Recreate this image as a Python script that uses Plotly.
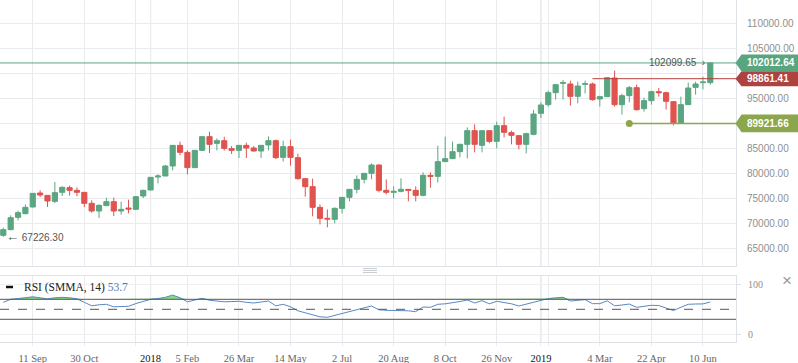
import plotly.graph_objects as go
import numpy as np
import pandas as pd

# ---------------- data ----------------
dates = pd.date_range("2017-08-14", periods=97, freq="7D")

opens = [67530, 68670, 71130, 71870, 73200, 76000, 75530, 74330, 76130, 77070,
         76530, 76130, 73930, 72400, 73470, 74270, 72400, 73000, 72730, 75400,
         76600, 79200, 79400, 81400, 85530, 84130, 81070, 84530, 87270, 85930,
         86470, 84870, 84530, 85530, 85000, 84400, 85600, 86470, 83130, 85270,
         83070, 78870, 77270, 73130, 70930, 70730, 72930, 75130, 76730, 78730,
         79930, 81600, 76530, 76130, 76330, 76730, 76530, 75530, 79530, 79330,
         82270, 82870, 84270, 85730, 88470, 85530, 88470, 86330, 89470, 88070,
         87470, 85730, 87730, 91930, 93670, 96070, 97930, 97800, 95330, 97730,
         97800, 94800, 95270, 99000, 93670, 95470, 97070, 92870, 94470, 96270,
         96070, 94270, 90000, 93670, 97130, 98070, 98070]
highs = [69070, 71530, 72470, 73730, 76000, 76530, 75530, 78200, 77330, 77470,
         77130, 76130, 74530, 73730, 75070, 75070, 74270, 74670, 75400, 76670,
         79200, 79730, 81600, 85530, 86270, 84530, 84600, 87330, 88270, 86930,
         87270, 85400, 85600, 86070, 85400, 85600, 87330, 86670, 86470, 86670,
         83870, 78930, 78870, 73730, 72730, 73130, 75200, 76800, 79530, 79930,
         81930, 81730, 78730, 77330, 78930, 76800, 77330, 80130, 80130, 85470,
         87270, 86270, 85870, 89130, 89730, 88530, 88530, 90270, 91270, 88470,
         87530, 88070, 92600, 94130, 96470, 97730, 98600, 98470, 98270, 98470,
         98070, 95470, 99200, 100470, 95870, 97400, 97670, 95070, 96470, 97000,
         96270, 94330, 95270, 98070, 98270, 99270, 102099.65]
lows = [67226.30, 68530, 70530, 71730, 73130, 75200, 73200, 73990, 75400, 75470,
        75330, 73200, 72070, 71000, 73470, 71400, 71670, 71930, 72600, 75000,
        76530, 77930, 79400, 80530, 83530, 79730, 81000, 84400, 84000, 84530,
        84470, 83800, 83000, 83000, 84330, 83000, 84530, 82800, 82270, 81470,
        78670, 75270, 71330, 69730, 69130, 69930, 71930, 74330, 75930, 77930,
        78730, 76130, 75730, 74930, 76130, 74330, 74330, 75330, 77070, 78070,
        82270, 82870, 83130, 82930, 84130, 84130, 85930, 84930, 87130, 85730,
        84730, 83930, 87530, 91000, 93270, 94670, 94670, 93470, 93930, 95930,
        94470, 93270, 95270, 93270, 91670, 94130, 92470, 92270, 93670, 95270,
        92670, 89530, 89800, 93670, 95670, 96730, 97670]
closes = [68670, 71070, 72070, 73130, 75930, 75600, 74400, 76070, 77130, 76530,
          76130, 73930, 72400, 73530, 74270, 72400, 72730, 72800, 75270, 76530,
          79130, 79400, 81400, 85530, 84130, 81070, 84530, 87270, 85730, 86470,
          84930, 84530, 85530, 85000, 84400, 85530, 86470, 83070, 85270, 83130,
          78870, 77270, 73130, 70930, 70800, 72930, 75130, 76730, 78730, 79930,
          81600, 76530, 76130, 76330, 76730, 76530, 75530, 79530, 79330, 82270,
          82870, 84270, 85730, 88470, 85730, 88470, 86330, 89470, 88130, 87530,
          85730, 87870, 91800, 93600, 96070, 97670, 98070, 95330, 97400, 97870,
          94670, 95270, 99070, 93670, 95470, 97070, 92670, 94470, 96270, 96070,
          94330, 90000, 93670, 97000, 97800, 98200, 102012.64]

rsi = [64, 70, 71.5, 73, 75, 73, 71, 73, 74, 73,
       71, 64, 57, 59, 60, 55, 55, 56, 61.5, 66,
       70, 71.5, 74, 78.5, 73, 65, 68, 72, 68, 66.5,
       65, 65.5, 66, 64, 62.6, 64.5, 66.6, 57, 60, 55,
       47, 43, 39.5, 35, 34, 38, 41, 46.5, 50, 53,
       56.6, 49, 48, 48, 48, 47, 45.3, 54.6, 54, 60,
       61, 62.5, 65.5, 68.6, 62.6, 67.3, 61, 66, 64, 61,
       56.6, 60.5, 65, 68.6, 71.5, 73, 74, 66.6, 68.5, 69.3,
       61.3, 61.3, 67, 57, 58.6, 60.5, 54, 56, 58, 57.5,
       53, 47.5, 54, 60, 60.6, 60.8, 64.6]

price_ticks = [65000, 70000, 75000, 80000, 85000, 90000, 95000, 100000, 105000, 110000]
# labels for 90000 / 100000 sit under the price tags in the reference
price_ticktext = ["65000.00", "70000.00", "75000.00", "80000.00", "85000.00", "",
                  "95000.00", "", "105000.00", "110000.00"]
rsi_ticks = [0, 100]
rsi_bands = [30, 50, 70]

x_tickvals = ["2017-09-11", "2017-10-30", "2017-12-18", "2018-01-01", "2018-02-05",
              "2018-03-26", "2018-05-14", "2018-07-02", "2018-08-20", "2018-10-08",
              "2018-11-26", "2019-01-07", "2019-01-14", "2019-03-04", "2019-04-22",
              "2019-06-10"]
x_ticktext = ["11 Sep", "30 Oct", "", "<span style='color:#111'>2018</span>", "5 Feb",
              "26 Mar", "14 May", "2 Jul", "20 Aug", "8 Oct",
              "26 Nov", "<span style='color:#111'>2019</span>", "", "4 Mar", "22 Apr",
              "10 Jun"]
year_lines = ["2018-01-01", "2019-01-07"]

last_close = 102012.64
last_high = 102099.65
first_low = 67226.30
red_level = 98861.41
red_start = dates[80]
olive_level = 89921.66
olive_start = dates[85]
rsi_label = "RSI (SMMA, 14)"
rsi_value_label = "53.7"

# ---------------- style ----------------
W, H = 798, 363
ML, MR, MT, MB = 0, 62, 0, 21
PW, PH = W - ML - MR, H - MT - MB
GREEN = "#5aa681"
RED = "#e0534e"
TAG_GREEN = "#58a580"
TAG_RED = "#ad4240"
OLIVE = "#8ba64c"
GRID = "#e9ebee"
YEARGRID = "#d4d7db"
BORDER = "#dfe2e6"
SANS = "Liberation Sans"
SERIF = "Liberation Serif"

main_dom = [(PH - 266) / PH, 1.0]
rsi_dom = [0.0, (PH - 276) / PH]
y_range = [61400, 114600]
rsi_range = [-15.4, 116.6]
x_range = ["2017-08-10 20:40", "2019-07-11 10:00"]


def py(ypix):  # pixel row (from top) -> paper y
    return (PH - ypix) / PH


def px(xpix):  # pixel column -> paper x
    return xpix / PW


fig = go.Figure()

fig.add_trace(go.Candlestick(
    x=dates, open=opens, high=highs, low=lows, close=closes,
    increasing=dict(line=dict(color=GREEN, width=1), fillcolor=GREEN),
    decreasing=dict(line=dict(color=RED, width=1), fillcolor=RED),
    whiskerwidth=0, showlegend=False, hoverinfo="skip",
    xaxis="x", yaxis="y"))

fig.add_trace(go.Scatter(
    x=[olive_start], y=[olive_level], mode="markers",
    marker=dict(color=OLIVE, size=7), showlegend=False, hoverinfo="skip",
    xaxis="x", yaxis="y"))

# RSI overbought fill
fig.add_trace(go.Scatter(x=dates, y=[70] * len(dates), mode="lines",
                         line=dict(width=0, color="rgba(0,0,0,0)"),
                         showlegend=False, hoverinfo="skip", xaxis="x2", yaxis="y2"))
fig.add_trace(go.Scatter(x=dates, y=np.maximum(np.array(rsi), 70), mode="lines",
                         line=dict(width=0, color="rgba(0,0,0,0)"), fill="tonexty",
                         fillcolor="rgba(110,210,110,0.85)",
                         showlegend=False, hoverinfo="skip", xaxis="x2", yaxis="y2"))
fig.add_trace(go.Scatter(x=dates, y=rsi, mode="lines",
                         line=dict(width=1, color="#5b87c4"),
                         showlegend=False, hoverinfo="skip", xaxis="x2", yaxis="y2"))

shapes = []
# year grid lines (darker)
for d in year_lines:
    shapes.append(dict(type="line", xref="x", yref="paper", x0=d, x1=d,
                       y0=main_dom[0], y1=1, line=dict(color=YEARGRID, width=1), layer="below"))
    shapes.append(dict(type="line", xref="x", yref="paper", x0=d, x1=d,
                       y0=rsi_dom[0], y1=rsi_dom[1], line=dict(color=YEARGRID, width=1), layer="below"))

# RSI bands
for b in rsi_bands:
    shapes.append(dict(type="line", xref="paper", yref="y2", x0=0, x1=1, y0=b, y1=b,
                       line=dict(color="#555555", width=1, dash="dash" if b == 50 else "solid")))

# horizontal price lines
shapes.append(dict(type="line", xref="paper", yref="y", x0=0, x1=1, y0=last_close, y1=last_close,
                   line=dict(color=GREEN, width=1)))
shapes.append(dict(type="line", xref="x", yref="y", x0=red_start, x1=x_range[1],
                   y0=red_level, y1=red_level, line=dict(color="#b5403d", width=1)))
shapes.append(dict(type="line", xref="x", yref="y", x0=olive_start, x1=x_range[1],
                   y0=olive_level, y1=olive_level, line=dict(color=OLIVE, width=1.5)))


# price tags (arrow-shaped)
def tag(level, color, half_px):
    h = half_px * 200  # 1px = 200 price units
    x_tip, x_body, x_end = px(735.5), px(741.5), px(W)
    path = (f"M {x_tip},{level} L {x_body},{level + h} L {x_end},{level + h} "
            f"L {x_end},{level - h} L {x_body},{level - h} Z")
    return dict(type="path", xref="paper", yref="y", path=path,
                fillcolor=color, line=dict(width=0), layer="above")


shapes.append(tag(red_level, TAG_RED, 7.5))
shapes.append(tag(last_close, TAG_GREEN, 8.4))
shapes.append(tag(olive_level, OLIVE, 8.8))

# pane resize handle
for yy in (268.5, 270.5, 272.5):
    shapes.append(dict(type="line", xref="paper", yref="paper", x0=px(363), x1=px(377),
                       y0=py(yy), y1=py(yy), line=dict(color="#c9cdd2", width=1)))
# legend dash
shapes.append(dict(type="line", xref="paper", yref="paper", x0=px(6), x1=px(13),
                   y0=py(287), y1=py(287), line=dict(color="#111111", width=2.5)))

annotations = []
for level, txt in ((last_close, f"{last_close:.2f}"), (red_level, f"{red_level:.2f}"),
                   (olive_level, f"{olive_level:.2f}")):
    annotations.append(dict(xref="paper", yref="y", x=px(745), y=level, xanchor="left",
                            yanchor="middle", text=txt, showarrow=False,
                            font=dict(family=SANS, size=10, color="white", weight="bold")))
annotations.append(dict(xref="x", yref="y", x=dates[-1], y=last_high, xanchor="right",
                        yanchor="middle", xshift=-3, text=f"{last_high:.2f}  \u203a",
                        showarrow=False, font=dict(family=SANS, size=10, color="#555555")))
annotations.append(dict(xref="x", yref="y", x=dates[0], y=first_low, xanchor="left",
                        yanchor="middle", xshift=1,
                        text=f"<span style='font-size:13px'>\u2190</span> {first_low:.2f}",
                        showarrow=False, font=dict(family=SANS, size=10, color="#555555")))
annotations.append(dict(xref="paper", yref="paper", x=px(22), y=py(287.5), xanchor="left",
                        yanchor="middle",
                        text=f"{rsi_label} <span style='color:#4d7dbf'>{rsi_value_label}</span>",
                        showarrow=False, font=dict(family=SERIF, size=11.5, color="#222222")))
annotations.append(dict(xref="paper", yref="paper", x=px(787), y=py(280), xanchor="center",
                        yanchor="middle", text="\u00d7", showarrow=False,
                        font=dict(family=SANS, size=17, color="#9a9a9a")))

fig.update_layout(
    width=W, height=H, margin=dict(l=ML, r=MR, t=MT, b=MB, autoexpand=False),
    paper_bgcolor="white", plot_bgcolor="white", showlegend=False,
    boxgap=0.3, boxgroupgap=0,
    shapes=shapes, annotations=annotations,
    xaxis=dict(type="date", range=x_range, domain=[0, 1], anchor="y",
               rangeslider=dict(visible=False), showticklabels=False,
               tickmode="array", tickvals=x_tickvals, showgrid=True, gridcolor=GRID,
               showline=True, linecolor=BORDER, linewidth=1, zeroline=False, ticks=""),
    yaxis=dict(domain=main_dom, range=y_range, side="right", anchor="x",
               tickmode="array", tickvals=price_ticks, ticktext=price_ticktext,
               showgrid=True, gridcolor=GRID, zeroline=False,
               showline=True, linecolor=BORDER, linewidth=1, ticks="",
               ticklabelstandoff=8,
               tickfont=dict(family=SANS, size=10, color="#8f8f8f")),
    xaxis2=dict(type="date", range=x_range, domain=[0, 1], anchor="y2", matches="x",
                tickmode="array", tickvals=x_tickvals, ticktext=x_ticktext,
                showgrid=True, gridcolor=GRID, showline=True, mirror=True,
                linecolor=BORDER, linewidth=1, zeroline=False,
                ticks="outside", ticklen=3, tickcolor=GRID, ticklabelstandoff=3,
                tickfont=dict(family=SERIF, size=10.5, color="#666666")),
    yaxis2=dict(domain=rsi_dom, range=rsi_range, side="right", anchor="x2",
                tickmode="array", tickvals=rsi_ticks, showgrid=True, gridcolor="#eef0f2",
                zeroline=False, showline=True, linecolor=BORDER, linewidth=1,
                ticks="outside", ticklen=4, tickcolor="#dcdfe3", ticklabelstandoff=5,
                tickfont=dict(family=SERIF, size=10, color="#8f8f8f")),
)

fig.write_html("out.html", config={"displayModeBar": False},
               post_script="document.body.style.margin='0';document.body.style.overflow='hidden';")
